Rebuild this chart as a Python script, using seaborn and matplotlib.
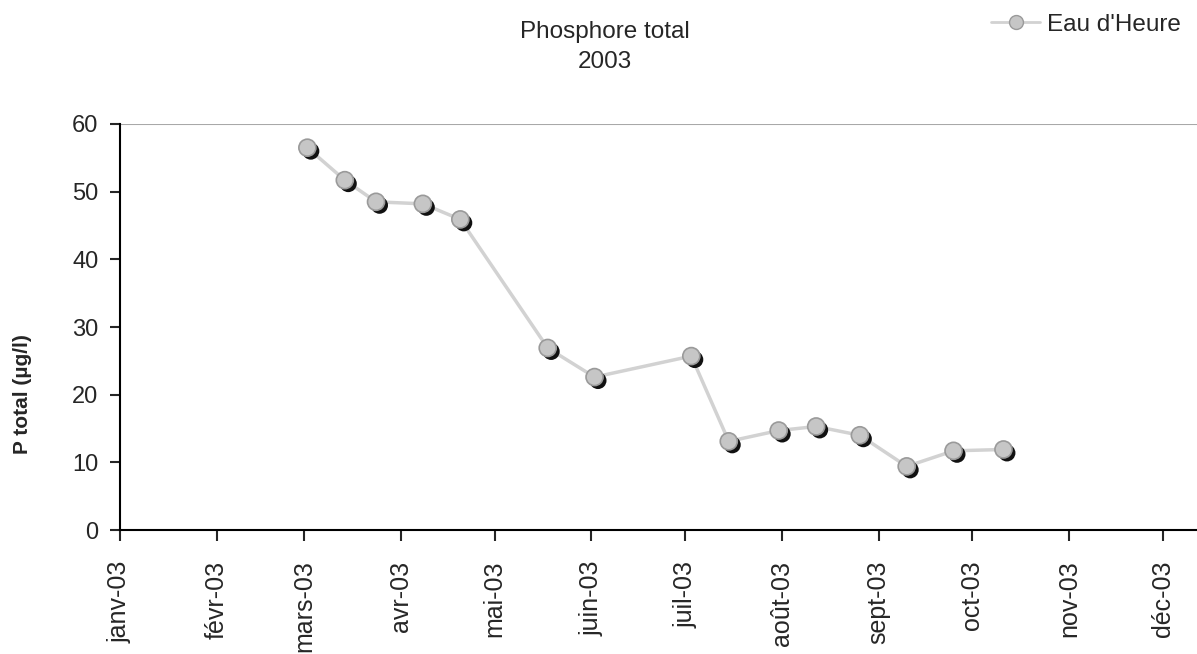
import pandas as pd
import matplotlib.pyplot as plt
import matplotlib.patheffects as pe
import seaborn as sns

# sampling dates and total phosphorus (µg/l)
dates = ['2003-03-02', '2003-03-14', '2003-03-24', '2003-04-08', '2003-04-20',
         '2003-05-18', '2003-06-02', '2003-07-03', '2003-07-15', '2003-07-31',
         '2003-08-12', '2003-08-26', '2003-09-10', '2003-09-25', '2003-10-11']
p_total = [56.5, 51.7, 48.5, 48.2, 45.9, 26.9, 22.6, 25.7, 13.1, 14.7,
           15.3, 14.0, 9.4, 11.7, 11.9]
month_labels = ['janv-03', 'févr-03', 'mars-03', 'avr-03', 'mai-03', 'juin-03',
                'juil-03', 'août-03', 'sept-03', 'oct-03', 'nov-03', 'déc-03']

df = pd.DataFrame({'date': pd.to_datetime(dates), 'P': p_total})

sns.set_style('white')
plt.rcParams['font.family'] = ['Liberation Sans', 'DejaVu Sans']

fig = plt.figure(figsize=(11.97, 6.54), dpi=100)
ax = fig.add_axes([0.1003, 0.1896, 0.8997, 0.6208])

sns.lineplot(x='date', y='P', data=df, color='#d2d2d2', linewidth=2.5, ax=ax,
             zorder=2)
sns.scatterplot(x='date', y='P', data=df, color='#c6c6c6', edgecolor='#9a9a9a',
                linewidth=1.2, s=150, ax=ax, zorder=3,
                path_effects=[pe.SimplePatchShadow(offset=(2.5, -2.5),
                                                   shadow_rgbFace='#111111', alpha=1.0),
                              pe.Normal()])

ax.set_xlim(pd.Timestamp('2003-01-01'), pd.Timestamp('2003-12-12'))
ax.set_ylim(0, 60)
ax.set_yticks(range(0, 61, 10))
ticks = pd.date_range('2003-01-01', periods=12, freq='MS')
ax.set_xticks(ticks)
ax.set_xticklabels(month_labels, rotation=90)
ax.axhline(60, color='#a8a8a8', linewidth=1.5, zorder=1)

for side in ['top', 'right']:
    ax.spines[side].set_visible(False)
for side in ['left', 'bottom']:
    ax.spines[side].set_color('black')
    ax.spines[side].set_linewidth(1.5)

ax.tick_params(axis='x', direction='out', length=8, width=1.5, labelsize=18,
               bottom=True, pad=14)
ax.tick_params(axis='y', direction='out', length=7.5, width=1.5, labelsize=17,
               left=True, pad=8)

ax.set_xlabel('')
ax.set_ylabel('P total (µg/l)', fontsize=15, fontweight='bold')
ax.yaxis.set_label_coords(-0.082, 0.335)

fig.text(0.505, 0.928, 'Phosphore total\n2003', ha='center', va='center',
         fontsize=17.5, linespacing=1.45)

handle = plt.Line2D([], [], color='#d2d2d2', linewidth=2, marker='o',
                    markersize=10, markerfacecolor='#c6c6c6',
                    markeredgecolor='#9a9a9a')
fig.legend([handle], ["Eau d'Heure"], loc='center left',
           bbox_to_anchor=(0.81, 0.962), frameon=False, fontsize=17.5,
           handlelength=2.0, handletextpad=0.3)

fig.savefig('out.png', dpi=100, facecolor='white')
